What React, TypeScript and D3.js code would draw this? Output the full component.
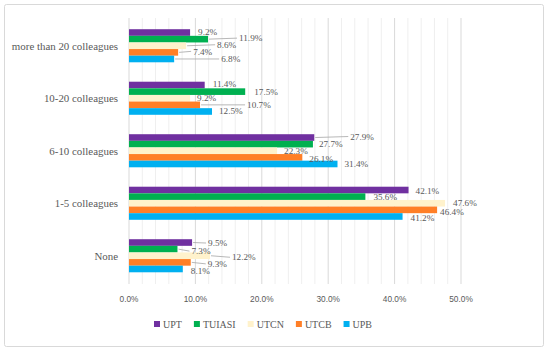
import React from 'react';
import * as d3 from 'd3';

const categories = ['more than 20 colleagues', '10-20 colleagues', '6-10 colleagues', '1-5 colleagues', 'None'];
const seriesNames = ['UPT', 'TUIASI', 'UTCN', 'UTCB', 'UPB'];
const upt = [9.2, 11.4, 27.9, 42.1, 9.5];
const tuiasi = [11.9, 17.5, 27.7, 35.6, 7.3];
const utcn = [8.6, 9.2, 22.3, 47.6, 12.2];
const utcb = [7.4, 10.7, 26.1, 46.4, 9.3];
const upb = [6.8, 12.5, 31.4, 41.2, 8.1];
const xTicks = [0, 10, 20, 30, 40, 50];

const seriesValues = [upt, tuiasi, utcn, utcb, upb];
const colors = ['#7030A0', '#00B050', '#FFF2CC', '#FF7F27', '#00B0F0'];

// callout offsets [dx, dy] from bar end, per series / category (Excel moved labels)
const labelOffsets = [
    [[8, -1], [8, -1.5], [36, -1], [7, 1], [16, 0.5]],
    [[31, -1], [9, 0], [6, 0], [8, 0.5], [14, 2]],
    [[31, -1], [7, 0], [7, 0.5], [8, -0.8], [22, 1.5]],
    [[15, -1], [47, 0], [7, 1], [3, 1.8], [17, 1.5]],
    [[47, 0], [7, -1], [7, 0], [8, 1.2], [8, 2]],
];

const width = 550;
const height = 349;
const plot = { left: 129, right: 461, top: 18, bottom: 284 };
const serif = '"Liberation Serif", "DejaVu Serif", serif';
const sans = '"Liberation Sans", Arial, sans-serif';

function textWidth(t: string, font: string) {
    const c = document.createElement('canvas').getContext('2d');
    if (!c) return t.length * 6;
    c.font = font;
    return c.measureText(t).width;
}

export default function App() {
    const x = d3.scaleLinear().domain([0, 50]).range([plot.left, plot.right]);
    const y = d3.scaleBand<string>()
        .domain(categories)
        .range([plot.top + 1.5, plot.bottom - 2])
        .paddingInner(0.37)
        .paddingOuter(0.185);
    const yInner = d3.scaleBand<string>()
        .domain(seriesNames)
        .range([0, y.bandwidth()]);

    const minor = d3.range(0, 51, 2);

    // legend layout
    const legendFont = `10px ${serif}`;
    let lx = 154;
    const legendItems = seriesNames.map((name, i) => {
        const item = { name, x: lx, color: colors[i] };
        lx += 9 + textWidth(name, legendFont) + 12;
        return item;
    });

    return (
        <svg width={width} height={height}
            style={{ position: 'absolute', left: 0, top: 0, background: '#fff' }}>
            <rect x={4.5} y={4.5} width={539} height={342} rx={2}
                fill="#fff" stroke="#d9d9d9" strokeWidth={1} />

            {/* gridlines */}
            {minor.map((t) => (
                <line key={'m' + t} x1={x(t)} x2={x(t)} y1={plot.top} y2={plot.bottom}
                    stroke={t % 10 === 0 ? '#d9d9d9' : '#efefef'} strokeWidth={1} />
            ))}

            {/* bars */}
            {categories.map((cat, ci) => (
                <g key={cat} transform={`translate(0,${y(cat)})`}>
                    {seriesNames.map((s, si) => (
                        <rect key={s}
                            x={x(0)}
                            y={yInner(s)}
                            width={x(seriesValues[si][ci]) - x(0)}
                            height={yInner.bandwidth()}
                            fill={colors[si]} />
                    ))}
                </g>
            ))}

            {/* data labels with leader lines */}
            {categories.map((cat, ci) => seriesNames.map((s, si) => {
                const v = seriesValues[si][ci];
                const [dx, dy] = labelOffsets[si][ci];
                const xe = x(v);
                const cy = (y(cat) || 0) + (yInner(s) || 0) + yInner.bandwidth() / 2;
                return (
                    <g key={cat + s}>
                        {dx > 12 && (
                            <line x1={xe + 1} y1={cy} x2={xe + dx - 2} y2={cy + dy}
                                stroke="#a6a6a6" strokeWidth={0.8} />
                        )}
                        <text x={xe + dx} y={cy + dy} dy="0.35em"
                            fontFamily={serif} fontSize={9.2} fill="#595959">
                            {v.toFixed(1)}%
                        </text>
                    </g>
                );
            }))}

            {/* category labels */}
            {categories.map((cat) => (
                <text key={cat} x={118} y={(y(cat) || 0) + y.bandwidth() / 2} dy="0.35em"
                    textAnchor="end" fontFamily={serif} fontSize={10.9} fill="#595959">
                    {cat}
                </text>
            ))}

            {/* x tick labels */}
            {xTicks.map((t) => (
                <text key={t} x={x(t)} y={299} dy="0.35em" textAnchor="middle"
                    fontFamily={sans} fontSize={8.3} fill="#595959">
                    {t.toFixed(1)}%
                </text>
            ))}

            {/* legend */}
            {legendItems.map((it) => (
                <g key={it.name}>
                    <rect x={it.x} y={321} width={6} height={6} fill={it.color} />
                    <text x={it.x + 9} y={324} dy="0.35em" fontFamily={serif}
                        fontSize={10} fill="#595959">
                        {it.name}
                    </text>
                </g>
            ))}
        </svg>
    );
}
